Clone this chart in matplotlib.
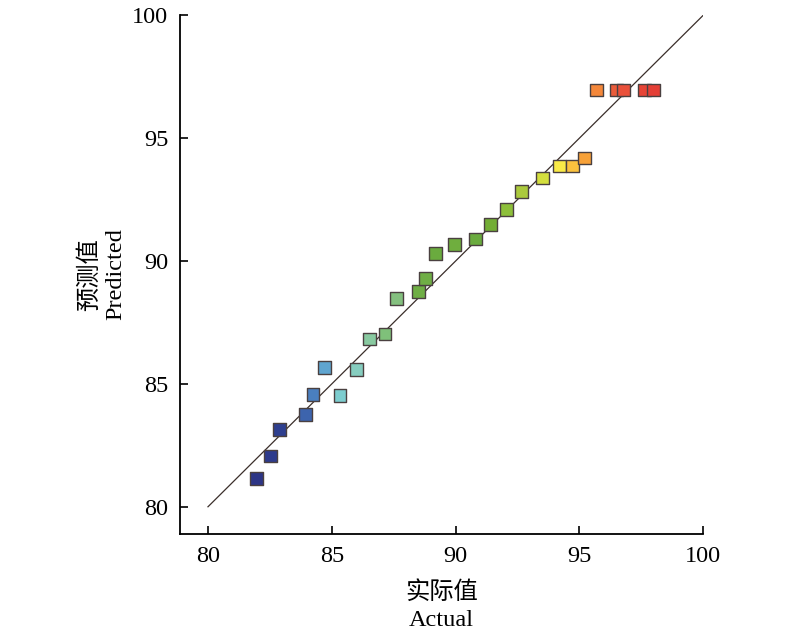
import matplotlib
matplotlib.use("Agg")
import matplotlib.pyplot as plt

plt.rcParams['font.family'] = ['Liberation Serif', 'Noto Sans CJK SC']

actual = [81.97, 82.53, 82.88, 83.93, 84.24, 84.70, 85.33, 85.99, 86.52, 87.15,
          87.62, 88.51, 88.77, 89.18, 89.94, 90.79, 91.42, 92.04, 92.67, 93.51,
          94.20, 94.72, 95.22, 95.70, 96.51, 96.78, 97.62, 97.99]
predicted = [81.14, 82.07, 83.14, 83.76, 84.58, 85.67, 84.54, 85.60, 86.83, 87.03,
             88.47, 88.75, 89.28, 90.32, 90.67, 90.90, 91.49, 92.09, 92.82, 93.38,
             93.87, 93.87, 94.19, 96.96, 96.96, 96.96, 96.96, 96.96]
colors = ['#2d3586', '#2d3a8c', '#2e3f8f', '#3d64ad', '#4a7fbf', '#5fa5d0', '#7dcdcf',
          '#86cdbf', '#88c9a0', '#7fc07a', '#84c07f', '#6fae45', '#6fae45', '#6aab3e',
          '#6fae3e', '#6aab3e', '#73ad35', '#8dbf3a', '#abc93c', '#d4df3e', '#f9ea47',
          '#fbc23e', '#f7a138', '#f4873a', '#ea5c3a', '#e9503a', '#e64436', '#e43f36']
ticks = [80, 85, 90, 95, 100]

fig = plt.figure(figsize=(8, 6.37), dpi=100)
ax = fig.add_axes([0.225, 0.162, 0.654, 0.814])

# 1:1 reference line
ax.plot([80, 100], [80, 100], color='#3a2e2a', lw=0.9, zorder=1)
ax.scatter(actual, predicted, s=85, marker='s', c=colors,
           edgecolors='#4a4040', linewidths=1.0, zorder=2)

ax.set_xlim(78.87, 100)
ax.set_ylim(78.9, 100)
ax.set_xticks(ticks)
ax.set_yticks(ticks)
ax.tick_params(direction='in', length=5.5, width=1.2, labelsize=17.5)
ax.tick_params(axis='x', pad=9)
ax.tick_params(axis='y', pad=8.5)

for side in ['top', 'right']:
    ax.spines[side].set_visible(False)
for side in ['left', 'bottom']:
    ax.spines[side].set_linewidth(1.3)

ax.set_xlabel('实际值\nActual', fontsize=17.5, labelpad=10, linespacing=1.35)
ax.set_ylabel('预测值\nPredicted', fontsize=17.5, labelpad=4, linespacing=1.25)

fig.savefig('out.png', dpi=100)
